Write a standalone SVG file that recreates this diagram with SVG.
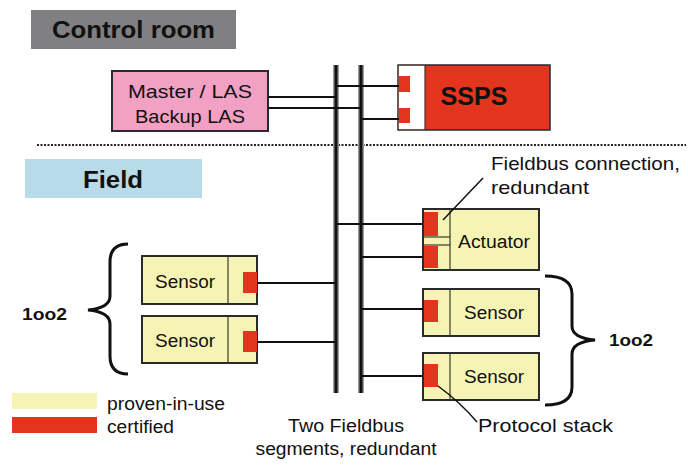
<svg xmlns="http://www.w3.org/2000/svg" width="688" height="465" viewBox="0 0 688 465">
<style>
text{font-family:"Liberation Sans",Arial,sans-serif;fill:#111}
.b{font-weight:bold}
.yel{fill:#f6f4b4;stroke:#2a2a2a;stroke-width:2}
.red{fill:#e2341e}
.div{stroke:#3a3a2a;stroke-width:1.2}
.ln{stroke:#111;stroke-width:2;fill:none}
.bus{stroke:#111;stroke-width:3}
.busg{stroke:#999;stroke-width:6}
.br{stroke:#111;stroke-width:3;fill:none}
</style>
<rect width="688" height="465" fill="#fff"/>
<g id="control-room">
<rect x="31" y="10" width="205" height="39" fill="#807f82"/>
<text x="52" y="38" class="b" font-size="23" textLength="163" lengthAdjust="spacingAndGlyphs">Control room</text>
</g>
<g id="master-las">
<rect x="112" y="71" width="156" height="60" fill="#f2a0c3" stroke="#2a2a2a" stroke-width="2"/>
<text x="190" y="98" font-size="19" text-anchor="middle" textLength="124" lengthAdjust="spacingAndGlyphs">Master / LAS</text>
<text x="190" y="123" font-size="19" text-anchor="middle" textLength="110" lengthAdjust="spacingAndGlyphs">Backup LAS</text>
</g>
<g id="ssps">
<rect x="398" y="65" width="152" height="65" fill="#e2341e" stroke="#2a2a2a" stroke-width="1.5"/>
<rect x="398.8" y="65.8" width="26" height="63.4" fill="#fff"/>
<line x1="425" y1="65" x2="425" y2="130" stroke="#2a2a2a" stroke-width="1"/>
<rect x="399" y="76" width="11" height="16" class="red"/>
<rect x="399" y="108" width="11" height="15" class="red"/>
<text x="474" y="105" class="b" font-size="25" text-anchor="middle" textLength="67" lengthAdjust="spacingAndGlyphs">SSPS</text>
</g>
<line id="separator" x1="37" y1="145" x2="686" y2="145" stroke="#222" stroke-width="2" stroke-dasharray="2,1.5"/>
<g id="field">
<rect x="25" y="159" width="177" height="39" fill="#b7dbe8"/>
<text x="83" y="188" class="b" font-size="24" textLength="60" lengthAdjust="spacingAndGlyphs">Field</text>
</g>
<g id="actuator">
<rect x="423" y="209" width="116" height="61" class="yel"/>
<line x1="450" y1="209" x2="450" y2="270" class="div"/>
<line x1="424" y1="237" x2="450" y2="237" class="div"/>
<line x1="424" y1="245" x2="450" y2="245" class="div"/>
<rect x="424" y="212" width="14" height="24" class="red"/>
<rect x="424" y="246" width="14" height="22" class="red"/>
<text x="494" y="248" font-size="18" text-anchor="middle" textLength="72" lengthAdjust="spacingAndGlyphs">Actuator</text>
</g>
<g id="sensor-left-1">
<rect x="142" y="256" width="115" height="48" class="yel"/>
<line x1="228" y1="256" x2="228" y2="304" class="div"/>
<rect x="243" y="272" width="14" height="21" class="red"/>
<text x="185" y="288" font-size="18" text-anchor="middle" textLength="60" lengthAdjust="spacingAndGlyphs">Sensor</text>
</g>
<g id="sensor-left-2">
<rect x="142" y="316" width="115" height="47" class="yel"/>
<line x1="228" y1="316" x2="228" y2="363" class="div"/>
<rect x="243" y="331" width="14" height="21" class="red"/>
<text x="185" y="347" font-size="18" text-anchor="middle" textLength="60" lengthAdjust="spacingAndGlyphs">Sensor</text>
</g>
<g id="sensor-right-1">
<rect x="423" y="289" width="116" height="47" class="yel"/>
<line x1="450" y1="289" x2="450" y2="336" class="div"/>
<rect x="424" y="300" width="14" height="22" class="red"/>
<text x="494" y="319" font-size="18" text-anchor="middle" textLength="60" lengthAdjust="spacingAndGlyphs">Sensor</text>
</g>
<g id="sensor-right-2">
<rect x="423" y="353" width="116" height="47" class="yel"/>
<line x1="450" y1="353" x2="450" y2="400" class="div"/>
<rect x="424" y="364" width="14" height="23" class="red"/>
<text x="494" y="383" font-size="18" text-anchor="middle" textLength="60" lengthAdjust="spacingAndGlyphs">Sensor</text>
</g>
<g id="connectors">
<line x1="336" y1="65" x2="336" y2="393" class="busg"/>
<line x1="361" y1="65" x2="361" y2="393" class="busg"/>
<line x1="336" y1="65" x2="336" y2="393" class="bus"/>
<line x1="361" y1="65" x2="361" y2="393" class="bus"/>
<line x1="268" y1="97" x2="336" y2="97" class="ln"/>
<line x1="268" y1="108" x2="361" y2="108" class="ln"/>
<line x1="336" y1="86" x2="399" y2="86" class="ln"/>
<line x1="361" y1="119" x2="399" y2="119" class="ln"/>
<line x1="336" y1="224" x2="423" y2="224" class="ln"/>
<line x1="361" y1="257" x2="423" y2="257" class="ln"/>
<line x1="257" y1="283" x2="336" y2="283" class="ln"/>
<line x1="257" y1="342" x2="336" y2="342" class="ln"/>
<line x1="361" y1="309" x2="423" y2="309" class="ln"/>
<line x1="361" y1="376" x2="423" y2="376" class="ln"/>
<line x1="483" y1="178" x2="443" y2="220" stroke="#111" stroke-width="1.5"/>
<path d="M438 386 Q460 402 477 422" stroke="#111" stroke-width="1.5" fill="none"/>
</g>
<g id="brace-left">
<path d="M128 244 Q110 244 110 262 L110 296 Q110 308 88 310 Q110 312 110 324 L110 356 Q110 374 128 374" class="br"/>
<text x="22" y="320" class="b" font-size="17" textLength="45" lengthAdjust="spacingAndGlyphs">1oo2</text>
</g>
<g id="brace-right">
<path d="M545 276 Q572 276 572 294 L572 326 Q572 338 595 340 Q572 342 572 354 L572 387 Q572 405 545 405" class="br"/>
<text x="609" y="346" class="b" font-size="17" textLength="44" lengthAdjust="spacingAndGlyphs">1oo2</text>
</g>
<g id="labels">
<text x="491" y="170" font-size="19" textLength="189" lengthAdjust="spacingAndGlyphs">Fieldbus connection,</text>
<text x="491" y="194" font-size="19" textLength="98" lengthAdjust="spacingAndGlyphs">redundant</text>
<text x="478" y="432" font-size="19" textLength="135" lengthAdjust="spacingAndGlyphs">Protocol stack</text>
<text x="346" y="432" font-size="18" text-anchor="middle" textLength="116" lengthAdjust="spacingAndGlyphs">Two Fieldbus</text>
<text x="346" y="455" font-size="18" text-anchor="middle" textLength="181" lengthAdjust="spacingAndGlyphs">segments, redundant</text>
</g>
<g id="legend">
<rect x="12" y="393" width="85" height="16" fill="#f6f4b4"/>
<rect x="12" y="417" width="85" height="16" class="red"/>
<text x="107" y="410" font-size="18" textLength="118" lengthAdjust="spacingAndGlyphs">proven-in-use</text>
<text x="107" y="433" font-size="18" textLength="67" lengthAdjust="spacingAndGlyphs">certified</text>
</g>
</svg>
